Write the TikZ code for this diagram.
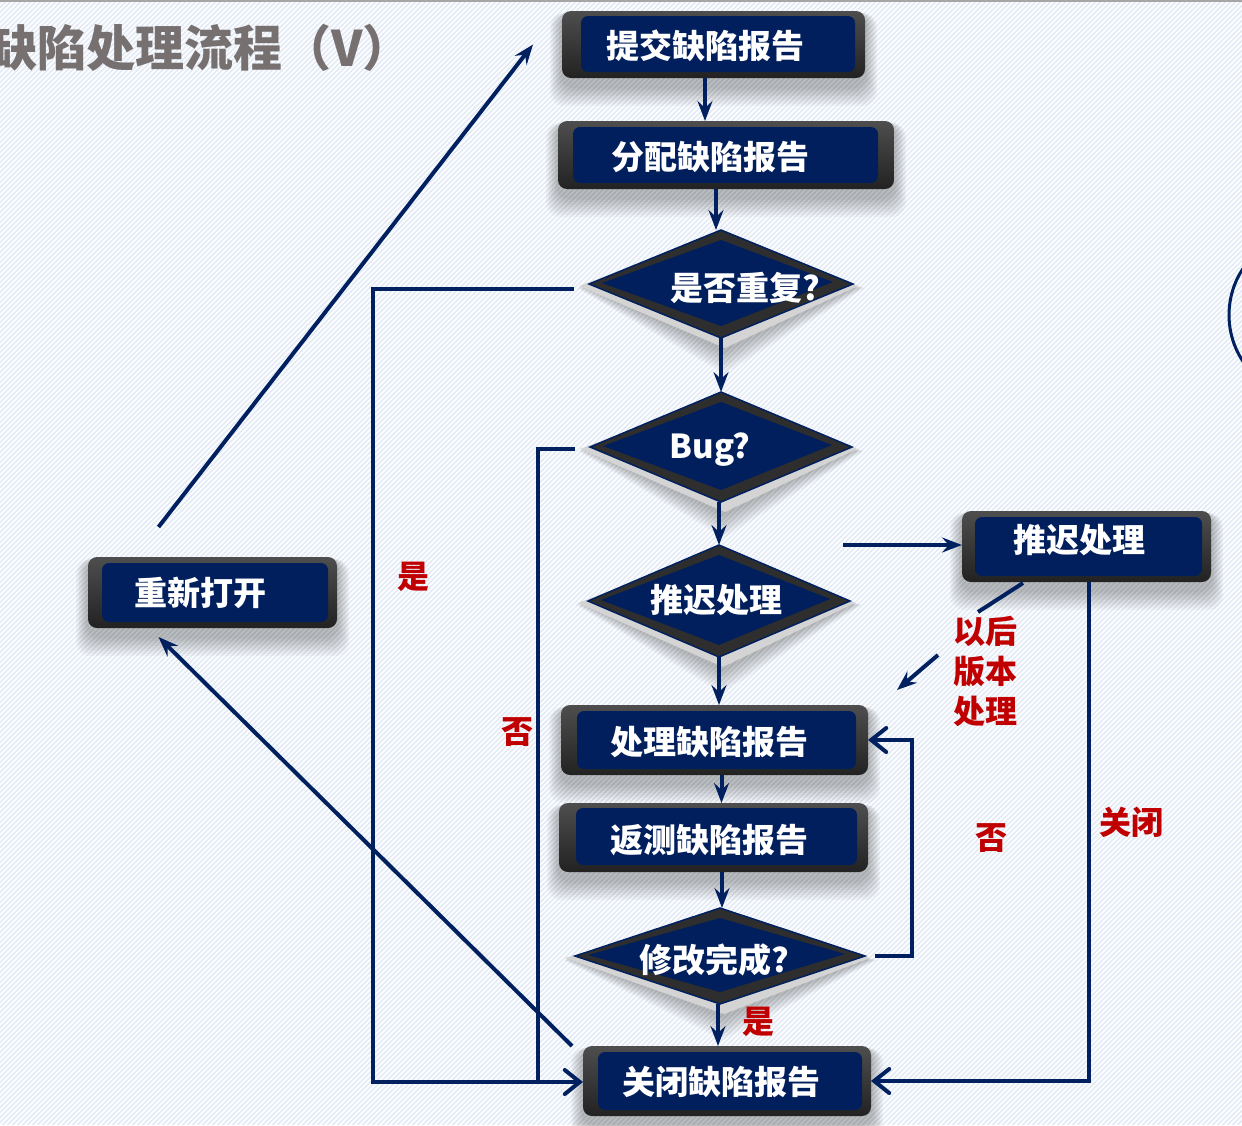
\documentclass[tikz,border=0pt]{standalone}
\usepackage{fontspec}
\newfontfamily\cjk{Noto Sans CJK SC}
\usetikzlibrary{shapes.geometric,arrows.meta,calc}
\definecolor{navy}{RGB}{0,32,96}
\definecolor{boxnavy}{RGB}{0,31,92}
\definecolor{red9}{RGB}{192,0,0}
\definecolor{titlegray}{RGB}{118,112,112}
\definecolor{bgblue}{RGB}{226,234,245}
\definecolor{rimgray}{RGB}{212,212,212}
\definecolor{darkfill}{RGB}{46,46,46}
\definecolor{boxtop}{RGB}{78,78,78}
\definecolor{boxbot}{RGB}{34,34,34}
\pgfdeclarelayer{back}
\pgfdeclarelayer{shadow}
\pgfsetlayers{back,shadow,main}
\tikzset{
  outerbox/.style={rectangle, rounded corners=9, inner sep=0, outer sep=0, top color=boxtop, bottom color=boxbot},
  innerbox/.style={rectangle, rounded corners=7, fill=boxnavy, inner sep=0, outer sep=0},
  diabox/.style={diamond, inner sep=0, outer sep=0, fill=darkfill, draw=navy, line width=1.5},
  lbl/.style={text=white, inner sep=0, font=\cjk\bfseries\fontsize{33}{33}\selectfont},
  redlbl/.style={text=red9, inner sep=0, align=center, font=\cjk\bfseries\fontsize{32}{40}\selectfont},
  line/.style={draw=navy, line width=4},
  arr/.style={line, -{Stealth[length=20,width=15,inset=7]}},
  openarr/.style={line, -{Straight Barb[length=15,width=24,line cap=round]}},
}
\newcommand\boxshadow[1]{%
  \begin{pgfonlayer}{shadow}
  \foreach \i in {1,...,8}{\fill[black,opacity=0.035,rounded corners=14]
     ([xshift={-1.5*\i},yshift=-2]#1.north west) rectangle ([xshift={1.5*\i},yshift={-8-2.5*\i}]#1.south east);}
  \end{pgfonlayer}}
\newcommand\flowbox[9]{%
  \node[outerbox, minimum width=#4, minimum height=#5] (#1) at (#2,#3) {};
  \node[innerbox, minimum width=#8, minimum height=#9] (#1-in) at (#6,#7) {};
  \boxshadow{#1}}
\newcommand\flowdia[5]{%
  \begin{pgfonlayer}{shadow}
  \foreach \i in {1,...,8}{\fill[black,opacity=0.035]
     (#2-#4-1.5*\i, #3+4) -- (#2, #3-#5+6) -- (#2+#4+1.5*\i, #3+4) -- (#2+3, #3+#5+12+3*\i) -- cycle;}
  \end{pgfonlayer}
  \fill[rimgray] (#2-#4-10, #3+2) -- (#2, #3-#5+4) -- (#2+#4+5, #3+2) -- (#2+4, #3+#5+10) -- cycle;
  \node[diabox, minimum width=2*#4, minimum height=2*#5] (#1) at (#2,#3) {};
  \fill[boxnavy] ([yshift=-10]#1.north) -- ([xshift=13,yshift=1]#1.west) -- ([yshift=12]#1.south) -- ([xshift=-20,yshift=2]#1.east) -- cycle;}
\begin{document}
\begin{tikzpicture}[x=1pt,y=-1pt]
\useasboundingbox (0,0) rectangle (1242,1125);
\begin{pgfonlayer}{back}
  \fill[bgblue] (0,0) rectangle (1242,1125);
  \begin{scope}
    \clip (0,0) rectangle (1242,1125);
    \foreach \k in {-1130,-1125,...,1245}{\draw[white,line width=1.6] (\k,1125) -- (\k+1125,0);}
    \draw[navy, line width=3] (1313,315) circle (84);
  \end{scope}
  \draw[gray!70, line width=2.5] (0,1) -- (1242,1);
\end{pgfonlayer}

% title
\node[anchor=west, inner sep=0, text=titlegray, font=\cjk\bfseries\fontsize{49}{49}\selectfont] (title) at (-12,48) {缺陷处理流程（V）};

% boxes
\flowbox{b1}{713.5}{44.5}{303}{67}{718}{44}{274}{56}
\flowbox{b2}{726}{155}{336}{68}{725.5}{155}{305}{56}
\flowbox{b3}{212.5}{592.5}{249}{71}{215}{592.5}{226}{59}
\flowbox{b4}{1086.5}{546.5}{249}{71}{1088.5}{546.5}{227}{59}
\flowbox{b5}{714.5}{740}{307}{70}{716.5}{740}{279}{58}
\flowbox{b6}{713.5}{837.5}{309}{69}{716.5}{836.5}{281}{57}
\flowbox{b7}{727}{1081}{288}{70}{730}{1081}{264}{58}

% diamonds
\flowdia{d1}{721}{284}{132}{54}
\flowdia{d2}{721}{447}{131}{55}
\flowdia{d3}{719}{601}{131}{56}
\flowdia{d4}{720}{956}{145}{48}

% connectors
\coordinate (c12) at ([xshift=-8.5]b1.south);
\draw[arr] (c12) -- (c12 |- b2.north);
\coordinate (c2d) at ([xshift=-10]b2.south);
\draw[arr] (c2d) -- (c2d |- d1.north);
\draw[arr] (d1.south) -- (d2.north);
\draw[arr] ([xshift=-2]d2.south) -- (d3.north);
\draw[arr] (d3.south) -- (d3.south |- b5.north);
\coordinate (c56) at ([xshift=7]b5.south);
\draw[arr] (c56) -- (c56 |- b6.north);
\coordinate (c6d) at ([xshift=8.5]b6.south);
\draw[arr] (c6d) -- (c6d |- d4.north);
\draw[arr] ([xshift=-2]d4.south) -- ([xshift=-2]d4.south |- b7.north);

\coordinate (c4r) at ([xshift=10]d4.east);
\coordinate (loopx) at (912,0);
\draw[openarr] (c4r) -| (loopx |- b5.east) -- (b5.east);

\coordinate (c1l) at ([xshift=-15,yshift=-5]d1.west);
\coordinate (lx) at (373,0);
\coordinate (jn) at (538,1082);
\draw[line] (c1l) -| (lx |- jn) -- (jn);
\coordinate (c2l) at ([xshift=-15,yshift=-2]d2.west);
\draw[openarr] (c2l) -| (jn) -- (jn -| b7.west);

\coordinate (ds) at (843,545);
\draw[arr] (ds) -- (ds -| b4.west);
\coordinate (c4b) at ([xshift=2.5]b4.south);
\draw[openarr] (c4b) |- (b7.east);

\coordinate (lb1) at (1023,583);
\coordinate (lb2) at (978,612);
\coordinate (lb3) at (938,655);
\coordinate (lb4) at (897,690);
\draw[line] (lb1) -- (lb2);
\draw[arr] (lb3) -- (lb4);

\coordinate (r1) at ([xshift=-11]b7.north west);
\coordinate (r2) at ([xshift=-54,yshift=-9]b3.south);
\draw[arr] (r1) -- (r2);
\coordinate (u1) at ([xshift=-54,yshift=30]b3.north);
\coordinate (u2) at ([xshift=-29]b1.west);
\draw[arr] (u1) -- (u2);

% labels
\node[lbl] (t1) at (705,46) {提交缺陷报告};
\node[lbl] (t2) at (710,157) {分配缺陷报告};
\node[lbl] (t3) at (200,593) {重新打开};
\node[lbl] (t4) at (1079,540) {推迟处理};
\node[lbl] (t5) at (709,742) {处理缺陷报告};
\node[lbl] (t6) at (709,840) {返测缺陷报告};
\node[lbl] (t7) at (721,1082) {关闭缺陷报告};
\node[lbl] (td1) at (745,288) {是否重复?};
\node[lbl] (td2) at (710,450) {Bug?};
\node[lbl] (td3) at (716,600) {推迟处理};
\node[lbl] (td4) at (714,960) {修改完成?};

\node[redlbl] (y1) at (413,577) {是};
\node[redlbl] (n1) at (517,732) {否};
\node[redlbl] (later) at (985,671) {以后\\版本\\处理};
\node[redlbl] (n2) at (991,838) {否};
\node[redlbl] (cl) at (1131,822) {关闭};
\node[redlbl] (y2) at (758,1022) {是};
\end{tikzpicture}
\end{document}
